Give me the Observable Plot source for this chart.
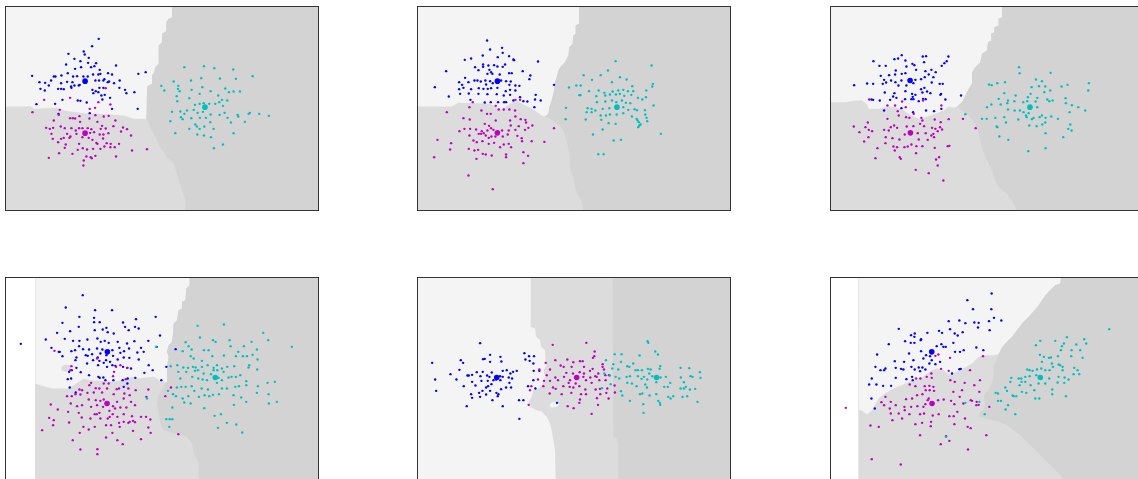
<!DOCTYPE html>
<html><head><meta charset="utf-8">
<script src="https://cdn.jsdelivr.net/npm/d3@7"></script>
<script src="https://cdn.jsdelivr.net/npm/@observablehq/plot@0.6"></script>
<style>
html,body{margin:0;padding:0;background:#fff;overflow:hidden;}
#root{position:relative;width:1138px;height:479px;overflow:hidden;background:#fff;}
#root svg{position:absolute;overflow:visible;}
</style></head>
<body><div id="root"></div>
<script>
// class names & colours (matplotlib b, m, c)
const classNames = ["blue", "magenta", "cyan"];
const classColors = ["#0000ff", "#bf00bf", "#00bfbf"];
const regionColors = {light: "#f4f4f4", mid: "#dcdcdc", dark: "#d3d3d3"};

// ---------- Panel 1 ----------
const p1Blue = [[295,115],[275,137],[204,160],[250,153],[253,162],[222,175],[240,182],[265,172],[287,188],[282,197],[263,187],[197,192],[242,200],[272,200],[347,195],[224,205],[298,208],[323,218],[335,222],[414,220],[436,215],[165,228],[160,228],[183,225],[202,218],[218,228],[230,227],[249,228],[262,228],[278,222],[294,222],[300,220],[309,240],[312,236],[322,245],[341,248],[358,240],[95,226],[117,245],[134,247],[152,240],[182,248],[200,244],[216,245],[212,258],[222,255],[235,255],[285,240],[296,240],[309,262],[326,243],[133,270],[120,265],[145,255],[173,265],[182,265],[190,266],[213,262],[238,253],[276,268],[286,272],[297,262],[294,275],[279,278],[303,285],[313,283],[329,292],[357,262],[374,268],[378,278],[402,275],[186,298],[232,300],[240,301],[259,306],[306,297],[108,311],[164,310],[335,325],[412,325],[174,340],[268,338]];
const p1Magenta = [[131,298],[209,292],[316,263],[294,305],[330,312],[96,335],[178,328],[175,343],[209,353],[217,353],[224,354],[237,347],[267,354],[284,322],[268,325],[285,344],[310,348],[325,346],[345,360],[160,360],[239,364],[291,364],[305,376],[137,382],[148,385],[158,382],[181,378],[193,383],[213,383],[226,390],[236,383],[246,383],[262,383],[273,386],[301,385],[316,384],[339,377],[368,381],[380,386],[153,400],[200,400],[210,408],[228,400],[269,397],[281,395],[298,402],[309,402],[324,398],[362,393],[392,405],[157,415],[182,415],[190,412],[207,412],[246,410],[265,412],[276,418],[288,427],[291,430],[308,414],[319,428],[331,430],[343,440],[356,430],[236,430],[196,432],[173,425],[193,442],[232,448],[247,443],[260,447],[278,445],[300,445],[312,438],[330,440],[440,446],[395,450],[216,460],[176,458],[258,468],[271,470],[285,466],[274,473],[347,468],[145,472],[250,480],[249,495]];
const p1Cyan = [[552,200],[611,197],[642,203],[699,207],[757,227],[603,233],[572,240],[520,243],[707,235],[659,234],[483,256],[492,270],[534,256],[533,265],[538,272],[574,268],[606,260],[598,280],[631,272],[675,264],[686,275],[700,273],[719,273],[567,293],[529,287],[531,302],[584,313],[598,310],[610,308],[654,285],[665,298],[681,300],[657,305],[645,310],[627,310],[668,316],[608,334],[592,337],[580,328],[560,330],[540,333],[515,334],[552,340],[542,350],[547,356],[573,353],[599,352],[617,352],[631,342],[658,343],[673,337],[682,352],[712,343],[714,348],[749,337],[745,340],[777,340],[806,346],[510,362],[585,372],[590,378],[598,385],[612,378],[640,385],[630,365],[692,366],[734,364],[567,385],[525,398],[591,402],[611,405],[632,410],[700,398],[668,432],[641,443]];
const p1Centers = [[254,242],[254,398],[614,320]];
const p1Light = [[15,18],[515,18],[515,50],[505,55],[498,65],[498,92],[485,100],[485,125],[475,135],[475,190],[465,200],[462,215],[455,225],[455,250],[440,258],[437,355],[400,355],[370,345],[330,342],[290,340],[250,338],[190,330],[170,322],[100,325],[95,318],[15,318]];
const p1Dark = [[515,18],[955,18],[955,630],[555,630],[555,600],[545,570],[530,520],[520,490],[500,470],[480,440],[465,410],[450,380],[440,355],[440,258],[455,250],[455,225],[462,215],[465,200],[475,190],[475,135],[485,125],[485,100],[498,92],[498,65],[505,55],[515,50]];

// ---------- Panel 2 ----------
const p2Blue = [[231,120],[276,142],[240,147],[278,157],[263,170],[297,167],[310,177],[312,179],[384,183],[164,178],[183,174],[218,165],[108,212],[195,200],[205,209],[219,199],[235,195],[238,208],[252,194],[262,198],[278,199],[285,192],[243,215],[232,220],[247,220],[269,222],[297,218],[305,218],[338,212],[361,225],[165,232],[147,245],[156,253],[175,245],[193,240],[202,240],[212,243],[226,240],[228,252],[240,242],[248,248],[273,240],[288,242],[302,243],[298,253],[316,255],[328,256],[358,236],[432,253],[147,266],[160,262],[183,266],[206,263],[220,265],[233,265],[243,263],[262,262],[287,272],[300,268],[316,270],[150,280],[176,279],[205,280],[232,281],[260,281],[281,285],[300,283],[330,290],[377,283],[116,288],[181,298],[224,306],[242,305],[264,305],[282,305],[288,305],[310,300],[340,302],[352,303],[375,297],[392,300],[373,320],[74,260],[219,192]];
const p2Magenta = [[330,298],[316,298],[188,305],[110,335],[178,320],[214,330],[231,340],[242,340],[257,316],[266,327],[281,327],[298,327],[315,330],[316,348],[160,353],[179,357],[257,360],[300,360],[332,356],[346,358],[348,366],[224,370],[237,376],[243,383],[250,388],[302,375],[326,377],[355,382],[367,375],[163,385],[180,385],[198,387],[215,392],[232,390],[276,390],[296,390],[316,388],[345,388],[432,383],[148,392],[206,400],[213,400],[221,398],[227,405],[236,412],[244,408],[256,408],[278,408],[293,402],[322,406],[335,413],[178,405],[190,420],[200,425],[217,422],[236,430],[252,427],[270,440],[281,432],[296,430],[303,440],[336,422],[365,422],[403,424],[82,418],[123,428],[120,447],[176,445],[193,450],[204,448],[218,460],[227,462],[245,465],[288,462],[288,470],[340,455],[354,466],[199,475],[72,470],[340,488],[175,525],[248,566]];
const p2Cyan = [[617,182],[725,195],[594,210],[521,224],[572,224],[630,230],[546,238],[606,245],[650,237],[499,255],[512,255],[667,257],[729,250],[727,258],[477,261],[537,272],[566,270],[583,277],[608,273],[625,270],[640,268],[654,272],[670,272],[709,270],[508,284],[511,284],[559,287],[586,285],[600,282],[618,282],[630,280],[643,286],[664,283],[684,292],[697,297],[708,290],[561,305],[586,303],[606,300],[619,305],[636,300],[648,307],[661,308],[731,315],[468,322],[533,323],[545,325],[556,330],[578,325],[598,323],[640,320],[655,328],[674,326],[681,329],[705,329],[530,335],[545,335],[572,345],[588,345],[600,342],[620,342],[640,338],[666,348],[680,355],[706,342],[710,352],[467,356],[527,357],[574,358],[596,368],[617,370],[683,360],[687,365],[692,372],[688,375],[685,380],[712,362],[578,387],[549,402],[611,420],[633,418],[565,461],[581,461],[753,400]];
const p2Centers = [[262,242],[262,397],[621,320]];
const p2Light = [[22,18],[507,18],[507,70],[497,75],[497,100],[490,105],[488,130],[478,140],[475,165],[465,185],[455,195],[445,210],[440,230],[435,245],[432,270],[425,300],[418,320],[415,340],[405,348],[395,345],[375,330],[360,322],[340,312],[320,300],[300,310],[285,320],[270,328],[250,315],[240,310],[200,308],[145,307],[125,318],[22,318]];
const p2Dark = [[507,18],[962,18],[962,630],[520,630],[515,600],[505,585],[495,560],[490,530],[480,500],[478,460],[470,420],[460,390],[450,375],[420,355],[405,348],[415,340],[418,320],[425,300],[432,270],[435,245],[440,230],[445,210],[455,195],[465,185],[475,165],[478,140],[488,130],[490,105],[497,100],[497,75],[507,70]];

// ---------- Panel 3 ----------
const p3Blue = [[229,164],[292,168],[302,167],[218,174],[207,176],[240,180],[261,190],[267,194],[144,182],[162,196],[181,196],[243,198],[296,185],[349,196],[357,188],[364,182],[369,168],[211,210],[191,224],[209,222],[229,220],[240,218],[272,208],[300,212],[318,208],[331,215],[310,222],[166,226],[176,238],[197,240],[210,245],[228,240],[270,238],[287,236],[298,230],[324,230],[319,246],[343,250],[352,250],[125,249],[143,250],[172,250],[182,246],[219,255],[243,255],[264,248],[297,262],[287,266],[86,254],[178,276],[207,278],[240,272],[260,280],[270,283],[291,276],[305,273],[315,278],[345,283],[347,280],[407,285],[138,297],[163,300],[143,298],[203,288],[194,298],[213,292],[239,296],[258,296],[264,296],[280,302],[293,295],[301,296],[360,297],[176,330],[228,323],[263,335],[302,330],[326,332],[348,325],[262,289]];
const p3Magenta = [[131,297],[230,303],[186,315],[209,315],[241,320],[293,300],[348,315],[217,332],[220,345],[242,350],[252,352],[265,340],[288,352],[291,360],[328,357],[346,365],[370,356],[413,355],[127,366],[186,355],[206,375],[196,380],[215,382],[244,378],[264,377],[284,370],[296,377],[320,382],[330,385],[344,380],[350,387],[85,378],[120,380],[130,388],[102,395],[140,392],[176,388],[190,390],[238,402],[277,398],[301,398],[318,405],[324,400],[337,392],[451,383],[129,410],[116,423],[181,410],[201,413],[222,417],[280,417],[307,418],[326,410],[180,428],[204,438],[215,440],[237,440],[247,438],[258,432],[273,437],[291,437],[328,442],[367,437],[372,436],[156,443],[208,450],[272,458],[223,470],[226,475],[341,470],[332,477],[150,473],[337,495],[271,508],[310,518],[354,540]];
const p3Cyan = [[581,200],[583,218],[676,217],[632,237],[650,242],[539,245],[516,248],[491,252],[499,254],[660,258],[641,257],[619,260],[709,258],[727,253],[791,248],[675,270],[657,275],[789,270],[537,278],[571,285],[616,280],[608,290],[636,292],[520,295],[548,300],[567,302],[594,305],[606,302],[631,303],[666,297],[672,302],[682,300],[721,293],[722,308],[740,314],[759,320],[780,330],[498,312],[485,320],[526,312],[546,308],[636,320],[548,327],[568,330],[584,330],[595,335],[610,338],[625,352],[643,350],[650,345],[661,352],[678,348],[698,355],[733,335],[470,355],[484,355],[510,352],[537,350],[602,345],[604,350],[612,375],[620,356],[634,377],[651,372],[660,366],[735,372],[514,378],[516,380],[542,366],[579,357],[729,385],[739,390],[661,398],[522,408],[549,418],[714,410],[609,452],[661,443],[420,341]];
const p3Centers = [[254,240],[255,397],[614,320]];
const p3Light = [[15,18],[530,18],[530,50],[520,55],[520,75],[507,80],[507,95],[498,100],[498,120],[488,125],[485,150],[470,160],[465,185],[450,200],[440,215],[440,250],[430,265],[420,285],[410,305],[395,318],[385,322],[370,318],[355,330],[330,340],[300,350],[280,355],[270,350],[250,340],[235,330],[210,320],[190,318],[160,325],[130,325],[125,312],[110,300],[90,300],[60,305],[15,305]];
const p3Dark = [[530,18],[955,18],[955,630],[575,630],[560,600],[545,580],[520,560],[510,540],[500,510],[490,490],[480,470],[470,440],[460,400],[450,370],[430,345],[410,330],[395,318],[410,305],[420,285],[430,265],[440,250],[440,215],[450,200],[465,185],[470,160],[485,150],[488,125],[498,120],[498,100],[507,95],[507,80],[520,75],[520,55],[530,50]];

// ---------- Panel 4 ----------
const p4Blue = [[247,75],[196,112],[284,120],[335,120],[237,140],[281,143],[281,156],[298,156],[186,158],[368,157],[407,147],[466,140],[235,170],[318,173],[374,170],[385,180],[404,170],[415,175],[170,188],[209,183],[283,180],[307,178],[322,186],[340,190],[193,206],[136,208],[218,212],[237,212],[261,208],[291,205],[301,215],[313,212],[325,218],[352,215],[380,220],[402,213],[444,212],[479,196],[153,233],[175,245],[178,245],[213,243],[224,240],[236,228],[248,237],[266,238],[290,235],[306,238],[336,240],[357,233],[386,235],[422,233],[469,230],[186,258],[228,262],[256,255],[262,257],[275,252],[300,250],[318,255],[338,257],[360,248],[371,243],[411,247],[430,245],[225,270],[278,270],[292,262],[297,272],[317,270],[329,275],[352,268],[370,262],[387,263],[415,268],[260,280],[293,285],[310,278],[320,290],[336,285],[345,287],[368,290],[381,293],[392,295],[228,293],[206,305],[214,300],[445,285],[457,300],[498,290],[526,237],[241,306],[266,315],[294,320],[298,323],[309,322],[315,330],[339,330],[367,330],[382,325],[405,323],[432,308],[483,330],[212,325],[202,327],[208,352],[226,367],[381,340],[370,350],[61,221]];
const p4Magenta = [[162,242],[290,265],[213,288],[210,300],[347,290],[360,285],[380,293],[341,305],[338,318],[376,327],[310,340],[325,340],[272,338],[267,345],[286,354],[297,355],[320,355],[349,357],[356,355],[384,355],[406,360],[444,358],[237,358],[245,360],[225,372],[240,373],[261,368],[280,367],[305,367],[340,372],[372,370],[388,375],[438,380],[495,378],[512,352],[200,378],[214,378],[265,388],[286,390],[300,392],[310,388],[350,395],[370,385],[392,395],[151,403],[211,400],[230,408],[245,405],[272,410],[290,405],[308,410],[338,408],[344,415],[360,412],[378,412],[404,405],[172,418],[203,425],[235,428],[283,432],[289,432],[297,428],[327,422],[337,432],[351,440],[370,432],[395,438],[422,440],[437,440],[146,443],[160,450],[244,442],[270,445],[300,445],[322,445],[328,440],[356,458],[370,455],[388,455],[398,452],[450,448],[158,465],[206,457],[249,470],[283,470],[317,465],[332,465],[358,470],[384,458],[404,456],[125,480],[238,488],[265,478],[336,488],[398,482],[444,472],[451,488],[534,492],[217,510],[317,502],[351,510],[367,522],[422,507],[240,538],[291,537],[291,552]];
const p4Cyan = [[592,167],[671,163],[789,188],[599,202],[638,210],[646,215],[688,210],[754,215],[804,210],[556,216],[565,228],[467,230],[547,243],[574,238],[611,240],[625,240],[691,228],[731,228],[714,245],[875,230],[571,258],[580,265],[605,272],[636,258],[671,256],[707,258],[728,258],[740,258],[757,254],[770,238],[511,288],[531,285],[549,292],[563,293],[578,290],[586,292],[605,290],[622,285],[640,293],[650,285],[665,295],[681,290],[702,288],[747,285],[745,292],[771,298],[772,268],[534,305],[558,305],[584,302],[593,300],[610,310],[632,312],[640,300],[651,300],[670,305],[694,320],[707,320],[720,315],[540,325],[576,320],[594,325],[607,328],[620,330],[655,323],[665,330],[685,322],[738,333],[802,338],[824,335],[773,348],[530,352],[543,350],[556,350],[574,348],[582,362],[604,355],[623,358],[650,338],[665,355],[680,355],[705,350],[716,348],[738,345],[770,368],[503,362],[518,372],[527,378],[547,385],[564,378],[596,380],[613,375],[627,378],[638,374],[656,372],[700,375],[723,382],[805,372],[516,412],[552,397],[571,400],[612,414],[643,437],[662,432],[701,404],[738,395],[806,400],[830,395],[498,447],[508,447],[516,447],[507,470],[653,473],[680,458],[708,463],[726,487],[440,385]];
const p4Centers = [[321,245],[320,400],[645,322]];
const p4Light = [[105,22],[568,22],[568,45],[558,55],[555,90],[545,95],[545,115],[535,120],[530,150],[520,160],[518,190],[515,215],[505,225],[500,245],[505,260],[500,290],[500,335],[480,335],[470,325],[460,320],[440,322],[410,325],[400,320],[380,325],[360,330],[340,335],[300,332],[270,330],[250,325],[235,335],[220,345],[200,355],[155,355],[120,345],[105,340]];
const p4Patch = [[183,290],[195,283],[210,285],[212,300],[195,305],[183,300]];
const p4Dark = [[568,22],[955,22],[955,634],[595,634],[595,580],[580,550],[575,520],[560,500],[520,490],[490,480],[480,460],[475,430],[470,400],[475,375],[490,350],[500,335],[500,290],[505,260],[500,245],[505,225],[515,215],[518,190],[520,160],[530,150],[535,120],[545,115],[545,95],[555,90],[558,55],[568,45]];

// ---------- Panel 5 ----------
const p5Blue = [[210,219],[240,254],[219,267],[224,266],[271,260],[274,274],[152,270],[159,278],[240,275],[66,278],[343,249],[357,258],[372,258],[346,268],[359,272],[370,280],[148,299],[200,306],[218,305],[245,307],[278,302],[290,300],[301,310],[309,305],[320,302],[186,314],[172,316],[176,316],[121,312],[211,318],[231,316],[238,320],[278,320],[296,322],[270,318],[258,328],[75,328],[139,328],[186,335],[214,332],[233,332],[250,330],[271,330],[298,338],[306,325],[370,330],[388,302],[371,302],[161,348],[196,346],[228,352],[234,348],[244,342],[273,357],[288,352],[303,352],[354,348],[376,355],[78,362],[183,372],[207,368],[217,362],[240,362],[259,368],[265,372],[186,383],[210,380],[228,373],[263,378],[327,390],[340,390],[247,390],[278,408],[170,408],[441,398],[328,446]];
const p5Magenta = [[428,224],[529,218],[554,244],[553,258],[549,263],[407,278],[436,270],[472,268],[490,276],[510,273],[518,273],[522,290],[485,290],[461,290],[452,286],[388,298],[420,298],[548,296],[578,282],[578,290],[582,298],[469,308],[489,310],[509,306],[522,310],[540,302],[556,318],[565,310],[597,315],[410,315],[436,322],[444,330],[462,320],[480,330],[520,320],[541,322],[560,320],[586,315],[384,328],[402,332],[420,332],[476,338],[497,340],[528,330],[545,338],[568,330],[587,330],[400,348],[360,360],[429,352],[437,356],[460,348],[479,350],[490,352],[508,348],[526,358],[557,358],[570,356],[592,355],[614,346],[364,348],[419,370],[455,372],[484,368],[513,372],[528,372],[561,384],[571,372],[589,368],[596,385],[615,367],[356,404],[473,408],[491,414],[508,398],[510,388],[564,404],[545,431]];
const p5Cyan = [[713,213],[715,218],[736,244],[744,253],[689,256],[614,252],[635,252],[588,270],[610,282],[633,275],[652,288],[658,290],[670,280],[677,300],[684,300],[696,300],[714,296],[722,298],[751,288],[749,296],[718,310],[625,298],[607,295],[583,310],[600,316],[617,320],[628,325],[650,320],[660,318],[684,318],[695,326],[702,320],[712,328],[727,318],[752,322],[768,320],[812,293],[838,294],[842,318],[848,320],[870,306],[872,323],[813,322],[822,336],[828,350],[602,342],[576,354],[652,338],[666,340],[680,348],[706,343],[711,352],[739,336],[763,350],[774,350],[781,338],[812,355],[822,355],[840,358],[856,356],[633,363],[637,376],[690,372],[697,370],[719,376],[739,372],[775,380],[782,385],[790,378],[660,392],[700,402],[745,392],[750,398],[751,404],[818,380],[832,378],[863,395],[701,428]];
const p5Centers = [[260,322],[500,322],[740,322]];
const p5Light = [[22,22],[362,22],[362,170],[375,175],[378,200],[390,210],[393,230],[405,240],[407,290],[400,300],[405,320],[398,340],[385,355],[370,360],[365,380],[355,395],[360,410],[380,420],[395,425],[410,440],[420,460],[425,480],[430,510],[435,540],[437,634],[22,634]];
const p5Hole = [[418,405],[425,397],[440,395],[447,402],[440,410],[425,413]];
const p5Dark = [[608,22],[962,22],[962,634],[625,634],[625,520],[620,505],[610,500]];

// ---------- Panel 6 ----------
const p6Blue = [[499,70],[426,90],[443,117],[498,117],[506,143],[370,153],[402,151],[420,159],[447,157],[460,158],[491,153],[528,151],[220,176],[341,182],[374,177],[458,172],[493,180],[268,190],[257,195],[388,190],[397,196],[412,186],[267,200],[306,188],[350,188],[190,222],[239,213],[256,218],[267,218],[286,210],[287,207],[348,222],[384,218],[361,230],[354,230],[453,232],[474,240],[287,243],[334,228],[389,245],[404,245],[415,240],[155,253],[251,250],[302,255],[314,258],[294,265],[208,273],[236,275],[264,270],[319,270],[330,282],[344,275],[280,292],[291,292],[300,298],[258,290],[227,296],[312,280],[150,290],[176,300],[211,293],[234,298],[268,298],[284,303],[180,295],[165,300],[402,297],[406,296],[139,325],[211,323],[243,327],[260,320],[262,330],[380,310],[131,343],[153,343],[173,347],[197,347],[138,385],[148,415]];
const p6Magenta = [[61,413],[330,257],[339,253],[374,263],[473,258],[347,296],[370,302],[434,300],[318,310],[319,323],[272,325],[285,325],[304,320],[253,343],[298,348],[312,347],[324,350],[375,330],[388,335],[418,338],[447,345],[464,330],[270,348],[301,360],[313,360],[326,362],[384,365],[410,360],[462,365],[180,380],[242,387],[260,385],[275,375],[291,372],[307,390],[310,385],[338,390],[355,388],[377,392],[403,380],[436,390],[454,395],[460,404],[453,405],[168,396],[196,395],[211,405],[237,410],[257,410],[276,408],[294,410],[300,402],[387,402],[414,400],[440,392],[492,410],[176,405],[193,415],[196,430],[220,430],[238,420],[252,432],[284,432],[296,430],[322,436],[340,432],[372,438],[385,438],[396,425],[419,445],[201,450],[230,445],[317,455],[270,462],[290,458],[316,468],[387,462],[427,470],[436,474],[135,466],[160,470],[284,495],[483,495],[362,498],[372,512],[346,522],[428,538],[139,567],[226,583]];
const p6Cyan = [[852,177],[777,207],[783,220],[725,201],[690,212],[645,212],[632,225],[716,220],[710,228],[753,223],[707,240],[739,240],[765,240],[644,254],[656,260],[671,263],[677,262],[698,258],[738,258],[772,263],[650,275],[680,280],[700,283],[705,285],[683,290],[712,290],[747,293],[757,300],[606,298],[613,300],[622,302],[635,298],[648,295],[660,300],[673,300],[712,300],[745,312],[762,312],[558,323],[580,325],[588,325],[600,320],[613,318],[633,315],[672,325],[700,320],[718,322],[730,328],[589,335],[600,335],[583,345],[616,345],[640,340],[660,340],[697,337],[717,338],[555,335],[540,352],[511,368],[518,370],[545,362],[590,365],[603,368],[627,360],[681,358],[681,372],[722,378],[565,378],[573,378],[527,392],[518,392],[548,405],[562,376],[630,385],[642,385],[462,395],[420,398],[541,418],[570,432],[478,432],[362,500]];
const p6Centers = [[319,245],[320,400],[645,322]];
const p6Light = [[100,22],[708,22],[705,40],[690,45],[680,55],[665,70],[650,90],[640,105],[628,120],[610,140],[590,160],[575,180],[560,200],[545,215],[530,232],[520,252],[505,255],[470,255],[455,265],[440,280],[420,292],[400,300],[385,310],[370,312],[355,300],[335,295],[318,300],[305,310],[290,322],[270,330],[250,335],[230,345],[210,352],[195,360],[175,372],[160,385],[150,400],[140,420],[125,432],[110,422],[100,418]];
const p6Dark = [[708,22],[955,22],[955,634],[720,634],[700,610],[680,590],[660,570],[640,550],[620,530],[600,510],[585,495],[565,480],[545,465],[520,455],[480,445],[460,440],[462,428],[475,418],[480,400],[475,380],[480,370],[495,350],[505,320],[505,290],[515,265],[520,252],[530,232],[545,215],[560,200],[575,180],[590,160],[610,140],[628,120],[640,105],[650,90],[665,70],[680,55],[690,45],[705,40]];

// panel frames in the same units: [xLeft, yTop, meshLeft]; page position of frame corner
const panels = [
  {pos:[5,6],   frame:[15,18,15],  blue:p1Blue, magenta:p1Magenta, cyan:p1Cyan, centers:p1Centers, light:p1Light, dark:p1Dark, extra:[]},
  {pos:[417,6], frame:[22,18,22],  blue:p2Blue, magenta:p2Magenta, cyan:p2Cyan, centers:p2Centers, light:p2Light, dark:p2Dark, extra:[]},
  {pos:[830,6], frame:[15,18,15],  blue:p3Blue, magenta:p3Magenta, cyan:p3Cyan, centers:p3Centers, light:p3Light, dark:p3Dark, extra:[]},
  {pos:[5,277], frame:[15,22,105], blue:p4Blue, magenta:p4Magenta, cyan:p4Cyan, centers:p4Centers, light:p4Light, dark:p4Dark, extra:[[p4Patch, regionColors.mid]]},
  {pos:[417,277],frame:[22,22,22], blue:p5Blue, magenta:p5Magenta, cyan:p5Cyan, centers:p5Centers, light:p5Light, dark:p5Dark, extra:[[p5Hole, regionColors.light]]},
  {pos:[830,277],frame:[15,22,100],blue:p6Blue, magenta:p6Magenta, cyan:p6Cyan, centers:p6Centers, light:p6Light, dark:p6Dark, extra:[]}
];

const W = 940, H = 612; // frame extent in data units
const root = document.getElementById("root");
for (const p of panels) {
  const [xl, yt, ml] = p.frame;
  const px = d => d[0], py = d => d[1];
  const centers = p.centers.map((c, i) => ({x: c[0], y: c[1], k: i}));
  const marks = [
    Plot.rect([{x1: ml, x2: xl + W, y1: yt + H, y2: yt}], {x1: "x1", x2: "x2", y1: "y1", y2: "y2", fill: regionColors.mid}),
    Plot.line(p.light, {x: px, y: py, fill: regionColors.light, stroke: "none"}),
    Plot.line(p.dark, {x: px, y: py, fill: regionColors.dark, stroke: "none"}),
    ...p.extra.map(([poly, col]) => Plot.line(poly, {x: px, y: py, fill: col, stroke: "none"})),
    Plot.dot(p.blue, {x: px, y: py, r: 1.2, fill: classColors[0], stroke: "none"}),
    Plot.dot(p.magenta, {x: px, y: py, r: 1.2, fill: classColors[1], stroke: "none"}),
    Plot.dot(p.cyan, {x: px, y: py, r: 1.2, fill: classColors[2], stroke: "none"}),
    Plot.dot(centers, {x: "x", y: "y", r: 2.8, fill: d => classColors[d.k], stroke: "none"}),
    Plot.frame({stroke: "#333", strokeWidth: 1})
  ];
  const svg = Plot.plot({
    width: 315, height: 206,
    marginTop: 1, marginRight: 1, marginBottom: 1, marginLeft: 1,
    x: {domain: [xl, xl + W], axis: null},
    y: {domain: [yt + H, yt], axis: null},
    marks
  });
  svg.style.left = (p.pos[0] - 1) + "px";
  svg.style.top = (p.pos[1] - 1) + "px";
  root.appendChild(svg);
}
</script></body></html>
